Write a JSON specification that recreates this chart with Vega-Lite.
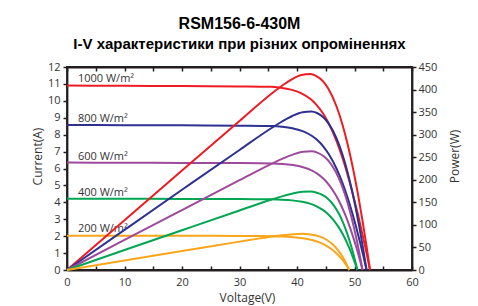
{
  "$schema": "https://vega.github.io/schema/vega-lite/v6.json",
  "width": 345,
  "height": 203,
  "autosize": {"type": "none"},
  "padding": {"left": 67, "top": 67, "right": 66, "bottom": 36},
  "background": "white",
  "title": {
    "text": "RSM156-6-430M",
    "subtitle": "I-V характеристики при різних опроміненнях",
    "anchor": "middle",
    "frame": "group",
    "font": "Liberation Sans",
    "fontSize": 16,
    "fontWeight": "bold",
    "color": "#000000",
    "subtitleFont": "Liberation Sans",
    "subtitleFontSize": 15,
    "subtitleFontWeight": "bold",
    "subtitleColor": "#000000",
    "subtitlePadding": 5,
    "offset": 9
  },
  "config": {
    "view": {"stroke": "#231F20", "strokeWidth": 1.8},
    "axis": {
      "grid": false,
      "domainColor": "#231F20",
      "domainWidth": 1.8,
      "tickColor": "#231F20",
      "tickWidth": 1.5,
      "labelFont": "Open Sans",
      "labelFontSize": 11,
      "labelColor": "#333333",
      "labelOverlap": false,
      "labelFlush": false,
      "titleFont": "Open Sans",
      "titleFontSize": 12,
      "titleFontWeight": "normal",
      "titleColor": "#333333"
    }
  },
  "data": {
    "values": [
      {"g": "1000 W/m²", "V": 0, "I": 10.9, "P": 0},
      {"g": "1000 W/m²", "V": 10, "I": 10.89, "P": 110.5},
      {"g": "1000 W/m²", "V": 20, "I": 10.87, "P": 220.7},
      {"g": "1000 W/m²", "V": 30, "I": 10.85, "P": 330.4},
      {"g": "1000 W/m²", "V": 35.39, "I": 10.826, "P": 388.9},
      {"g": "1000 W/m²", "V": 37.15, "I": 10.771, "P": 406.2},
      {"g": "1000 W/m²", "V": 38.94, "I": 10.662, "P": 421.4},
      {"g": "1000 W/m²", "V": 40.77, "I": 10.445, "P": 432.2},
      {"g": "1000 W/m²", "V": 42.3, "I": 10.118, "P": 434.3},
      {"g": "1000 W/m²", "V": 43.31, "I": 9.792, "P": 430.5},
      {"g": "1000 W/m²", "V": 44.54, "I": 9.248, "P": 418.1},
      {"g": "1000 W/m²", "V": 45.46, "I": 8.704, "P": 401.6},
      {"g": "1000 W/m²", "V": 46.88, "I": 7.616, "P": 362.4},
      {"g": "1000 W/m²", "V": 48.0, "I": 6.528, "P": 318.1},
      {"g": "1000 W/m²", "V": 48.96, "I": 5.44, "P": 270.3},
      {"g": "1000 W/m²", "V": 49.82, "I": 4.352, "P": 220.1},
      {"g": "1000 W/m²", "V": 50.61, "I": 3.264, "P": 167.6},
      {"g": "1000 W/m²", "V": 51.34, "I": 2.176, "P": 113.4},
      {"g": "1000 W/m²", "V": 52.04, "I": 1.088, "P": 57.5},
      {"g": "1000 W/m²", "V": 52.7, "I": 0, "P": 0},

      {"g": "800 W/m²", "V": 0, "I": 8.57, "P": 0},
      {"g": "800 W/m²", "V": 10, "I": 8.56, "P": 89.0},
      {"g": "800 W/m²", "V": 20, "I": 8.55, "P": 177.8},
      {"g": "800 W/m²", "V": 30, "I": 8.53, "P": 266.1},
      {"g": "800 W/m²", "V": 35.64, "I": 8.507, "P": 315.3},
      {"g": "800 W/m²", "V": 37.4, "I": 8.465, "P": 329.2},
      {"g": "800 W/m²", "V": 39.18, "I": 8.379, "P": 341.4},
      {"g": "800 W/m²", "V": 40.98, "I": 8.208, "P": 349.9},
      {"g": "800 W/m²", "V": 42.49, "I": 7.952, "P": 351.4},
      {"g": "800 W/m²", "V": 43.48, "I": 7.695, "P": 348.0},
      {"g": "800 W/m²", "V": 44.66, "I": 7.268, "P": 337.6},
      {"g": "800 W/m²", "V": 45.54, "I": 6.84, "P": 324.0},
      {"g": "800 W/m²", "V": 46.88, "I": 5.985, "P": 291.8},
      {"g": "800 W/m²", "V": 47.92, "I": 5.13, "P": 255.6},
      {"g": "800 W/m²", "V": 48.79, "I": 4.275, "P": 216.9},
      {"g": "800 W/m²", "V": 49.56, "I": 3.42, "P": 176.3},
      {"g": "800 W/m²", "V": 50.26, "I": 2.565, "P": 134.1},
      {"g": "800 W/m²", "V": 50.91, "I": 1.71, "P": 90.5},
      {"g": "800 W/m²", "V": 51.52, "I": 0.855, "P": 45.8},
      {"g": "800 W/m²", "V": 52.1, "I": 0, "P": 0},

      {"g": "600 W/m²", "V": 0, "I": 6.35, "P": 0},
      {"g": "600 W/m²", "V": 10, "I": 6.34, "P": 66.6},
      {"g": "600 W/m²", "V": 20, "I": 6.33, "P": 132.9},
      {"g": "600 W/m²", "V": 30, "I": 6.32, "P": 199.1},
      {"g": "600 W/m²", "V": 35.74, "I": 6.298, "P": 236.4},
      {"g": "600 W/m²", "V": 37.5, "I": 6.267, "P": 246.8},
      {"g": "600 W/m²", "V": 39.27, "I": 6.203, "P": 255.8},
      {"g": "600 W/m²", "V": 41.06, "I": 6.077, "P": 262.0},
      {"g": "600 W/m²", "V": 42.54, "I": 5.887, "P": 263.0},
      {"g": "600 W/m²", "V": 43.51, "I": 5.697, "P": 260.3},
      {"g": "600 W/m²", "V": 44.65, "I": 5.381, "P": 252.3},
      {"g": "600 W/m²", "V": 45.49, "I": 5.064, "P": 241.9},
      {"g": "600 W/m²", "V": 46.74, "I": 4.431, "P": 217.5},
      {"g": "600 W/m²", "V": 47.7, "I": 3.798, "P": 190.2},
      {"g": "600 W/m²", "V": 48.5, "I": 3.165, "P": 161.2},
      {"g": "600 W/m²", "V": 49.19, "I": 2.532, "P": 130.8},
      {"g": "600 W/m²", "V": 49.81, "I": 1.899, "P": 99.3},
      {"g": "600 W/m²", "V": 50.38, "I": 1.266, "P": 67.0},
      {"g": "600 W/m²", "V": 50.9, "I": 0.633, "P": 33.8},
      {"g": "600 W/m²", "V": 51.4, "I": 0, "P": 0},

      {"g": "400 W/m²", "V": 0, "I": 4.21, "P": 0},
      {"g": "400 W/m²", "V": 10, "I": 4.21, "P": 44.2},
      {"g": "400 W/m²", "V": 20, "I": 4.2, "P": 88.2},
      {"g": "400 W/m²", "V": 30, "I": 4.19, "P": 132.0},
      {"g": "400 W/m²", "V": 35.62, "I": 4.179, "P": 156.3},
      {"g": "400 W/m²", "V": 37.37, "I": 4.158, "P": 163.2},
      {"g": "400 W/m²", "V": 39.14, "I": 4.116, "P": 169.1},
      {"g": "400 W/m²", "V": 40.91, "I": 4.032, "P": 173.2},
      {"g": "400 W/m²", "V": 42.37, "I": 3.906, "P": 173.8},
      {"g": "400 W/m²", "V": 43.31, "I": 3.78, "P": 171.9},
      {"g": "400 W/m²", "V": 44.41, "I": 3.57, "P": 166.5},
      {"g": "400 W/m²", "V": 45.22, "I": 3.36, "P": 159.5},
      {"g": "400 W/m²", "V": 46.39, "I": 2.94, "P": 143.2},
      {"g": "400 W/m²", "V": 47.27, "I": 2.52, "P": 125.1},
      {"g": "400 W/m²", "V": 47.99, "I": 2.1, "P": 105.8},
      {"g": "400 W/m²", "V": 48.6, "I": 1.68, "P": 85.7},
      {"g": "400 W/m²", "V": 49.14, "I": 1.26, "P": 65.0},
      {"g": "400 W/m²", "V": 49.63, "I": 0.84, "P": 43.8},
      {"g": "400 W/m²", "V": 50.08, "I": 0.42, "P": 22.1},
      {"g": "400 W/m²", "V": 50.5, "I": 0, "P": 0},

      {"g": "200 W/m²", "V": 0, "I": 2.03, "P": 0},
      {"g": "200 W/m²", "V": 10, "I": 2.03, "P": 21.1},
      {"g": "200 W/m²", "V": 20, "I": 2.02, "P": 42.0},
      {"g": "200 W/m²", "V": 30, "I": 2.015, "P": 62.9},
      {"g": "200 W/m²", "V": 33.53, "I": 2.01, "P": 70.1},
      {"g": "200 W/m²", "V": 35.47, "I": 2.0, "P": 73.8},
      {"g": "200 W/m²", "V": 37.42, "I": 1.98, "P": 77.1},
      {"g": "200 W/m²", "V": 39.38, "I": 1.939, "P": 79.4},
      {"g": "200 W/m²", "V": 40.97, "I": 1.879, "P": 80.1},
      {"g": "200 W/m²", "V": 41.99, "I": 1.818, "P": 79.4},
      {"g": "200 W/m²", "V": 43.16, "I": 1.717, "P": 77.1},
      {"g": "200 W/m²", "V": 44.0, "I": 1.616, "P": 74.0},
      {"g": "200 W/m²", "V": 45.21, "I": 1.414, "P": 66.5},
      {"g": "200 W/m²", "V": 46.09, "I": 1.212, "P": 58.1},
      {"g": "200 W/m²", "V": 46.79, "I": 1.01, "P": 49.1},
      {"g": "200 W/m²", "V": 47.37, "I": 0.808, "P": 39.8},
      {"g": "200 W/m²", "V": 47.88, "I": 0.606, "P": 30.2},
      {"g": "200 W/m²", "V": 48.33, "I": 0.404, "P": 20.3},
      {"g": "200 W/m²", "V": 48.73, "I": 0.202, "P": 10.2},
      {"g": "200 W/m²", "V": 49.1, "I": 0, "P": 0}
    ]
  },
  "layer": [
    {
      "encoding": {
        "x": {
          "field": "V", "type": "quantitative",
          "scale": {"domain": [0, 60], "nice": false, "zero": false},
          "axis": {
            "title": "Voltage(V)",
            "values": [0, 5, 10, 15, 20, 25, 30, 35, 40, 45, 50, 55, 60],
            "labelExpr": "datum.value % 10 == 0 ? datum.label : ''",
            "tickSize": -4,
            "labelPadding": 10,
            "titleX": 180,
            "titleY": 27,
            "titleBaseline": "middle"
          }
        },
        "y": {
          "field": "I", "type": "quantitative",
          "scale": {"domain": [0, 12], "nice": false},
          "axis": {
            "title": "Current(A)",
            "values": [0, 1, 2, 3, 4, 5, 6, 7, 8, 9, 10, 11, 12],
            "labelOverlap": false,
            "tickSize": 4,
            "labelPadding": 3,
            "titleX": -30,
            "titleY": 89,
            "titleBaseline": "middle"
          }
        }
      },
      "layer": [
        {
          "mark": {"type": "line", "strokeWidth": 2, "interpolate": "monotone"},
          "encoding": {
            "color": {
              "field": "g", "type": "nominal", "legend": null,
              "scale": {
                "domain": ["1000 W/m²", "800 W/m²", "600 W/m²", "400 W/m²", "200 W/m²"],
                "range": ["#ED1C24", "#2E3192", "#9E4A9C", "#00A651", "#F9A61A"]
              }
            }
          }
        },
        {
          "data": {
            "values": [
              {"t": "1000 W/m²", "V": 1.9, "I": 11.32},
              {"t": "800 W/m²", "V": 1.9, "I": 8.92},
              {"t": "600 W/m²", "V": 1.9, "I": 6.69},
              {"t": "400 W/m²", "V": 1.9, "I": 4.58},
              {"t": "200 W/m²", "V": 1.9, "I": 2.42}
            ]
          },
          "mark": {"type": "text", "align": "left", "baseline": "middle", "font": "Open Sans", "fontSize": 11, "color": "#333333"},
          "encoding": {
            "text": {"field": "t", "type": "nominal"}
          }
        }
      ]
    },
    {
      "mark": {"type": "line", "strokeWidth": 2, "interpolate": "monotone"},
      "encoding": {
        "x": {
          "field": "V", "type": "quantitative",
          "axis": {
            "orient": "top",
            "title": null,
            "labels": false,
            "values": [0, 5, 10, 15, 20, 25, 30, 35, 40, 45, 50, 55, 60],
            "tickSize": -4
          }
        },
        "y": {
          "field": "P", "type": "quantitative",
          "scale": {"domain": [0, 450], "nice": false},
          "axis": {
            "orient": "right",
            "title": "Power(W)",
            "values": [0, 50, 100, 150, 200, 250, 300, 350, 400, 450],
            "tickSize": 4,
            "labelPadding": 2,
            "titleAngle": -90,
            "titleX": 42,
            "titleY": 89,
            "titleBaseline": "middle"
          }
        },
        "color": {"field": "g", "type": "nominal", "legend": null}
      }
    }
  ],
  "resolve": {"scale": {"y": "independent"}, "axis": {"x": "independent"}}
}
